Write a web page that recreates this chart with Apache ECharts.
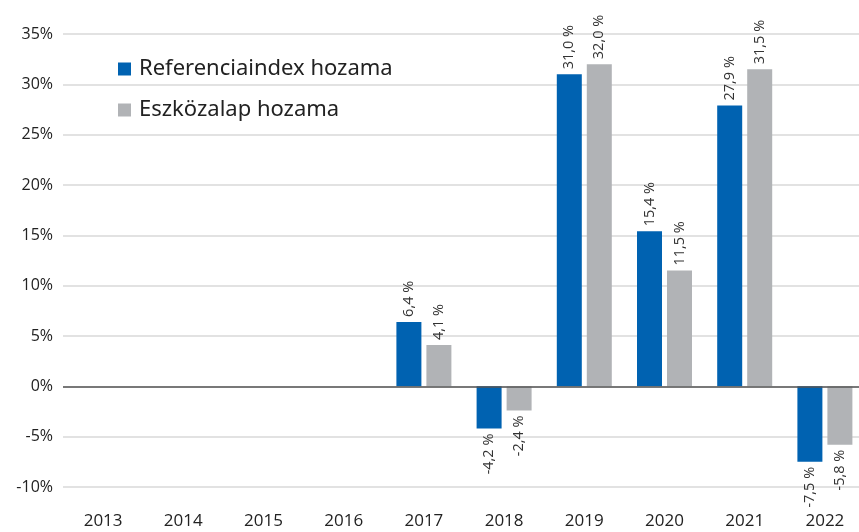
<!DOCTYPE html>
<html>
<head>
<meta charset="utf-8">
<script src="https://cdn.jsdelivr.net/npm/echarts@6/dist/echarts.min.js"></script>
<style>
  html, body { margin: 0; padding: 0; background: #fff; }
  #chart { width: 859px; height: 532px; }
</style>
</head>
<body>
<div id="chart"></div>
<script>
const years = ['2013', '2014', '2015', '2016', '2017', '2018', '2019', '2020', '2021', '2022']
const indexReturns = [null, null, null, null, 6.4, -4.2, 31.0, 15.4, 27.9, -7.5]
const fundReturns = [null, null, null, null, 4.1, -2.4, 32.0, 11.5, 31.5, -5.8]

const BLUE = '#0062b1'
const GRAY = '#b1b3b6'

// negatív értékeknél a címke a hasáb alá kerül
function withLabels(values) {
  return values.map(v => {
    if (v === null) return null
    const neg = v < 0
    return {
      value: v,
      label: {
        position: neg ? 'bottom' : 'top',
        align: neg ? 'right' : 'left',
      },
    }
  })
}

const labelStyle = {
  show: true,
  rotate: 90,
  verticalAlign: 'middle',
  distance: 5,
  color: '#333',
  fontFamily: 'Open Sans',
  fontSize: 14.5,
  formatter: p => p.value.toFixed(1).replace('.', ',') + ' %',
}

const chart = echarts.init(document.getElementById('chart'))

chart.setOption({
  animation: false,
  legend: {
    orient: 'vertical',
    left: 113,
    top: 53,
    itemWidth: 13,
    itemHeight: 13,
    itemGap: 19,
    icon: 'rect',
    textStyle: { color: '#222', fontSize: 22, fontFamily: 'Noto Sans', padding: [0, 0, 0, 3] },
    data: ['Referenciaindex hozama', 'Eszközalap hozama'],
  },
  grid: {
    left: 63,
    right: -6,
    top: 34,
    bottom: 45,
    outerBoundsMode: 'none',
  },
  xAxis: {
    type: 'category',
    data: years,
    axisLine: { show: false },
    axisTick: { show: false },
    axisLabel: { color: '#222', fontSize: 17, fontFamily: 'Open Sans', margin: 26 },
  },
  yAxis: {
    type: 'value',
    min: -10,
    max: 35,
    interval: 5,
    axisLine: { show: false },
    axisTick: { show: false },
    axisLabel: {
      color: '#222',
      fontSize: 16,
      fontFamily: 'Open Sans',
      margin: 10,
      formatter: '{value}%',
    },
    splitLine: { lineStyle: { color: '#d9d9d9', width: 1.5 } },
  },
  series: [
    {
      name: 'Referenciaindex hozama',
      type: 'bar',
      barWidth: 25,
      barGap: '20%',
      itemStyle: { color: BLUE },
      label: labelStyle,
      data: withLabels(indexReturns),
      markLine: {
        silent: true,
        symbol: 'none',
        label: { show: false },
        lineStyle: { color: '#555', width: 1.5, type: 'solid' },
        data: [{ yAxis: 0 }],
      },
    },
    {
      name: 'Eszközalap hozama',
      type: 'bar',
      barWidth: 25,
      itemStyle: { color: GRAY },
      label: labelStyle,
      data: withLabels(fundReturns),
    },
  ],
})
</script>
</body>
</html>
